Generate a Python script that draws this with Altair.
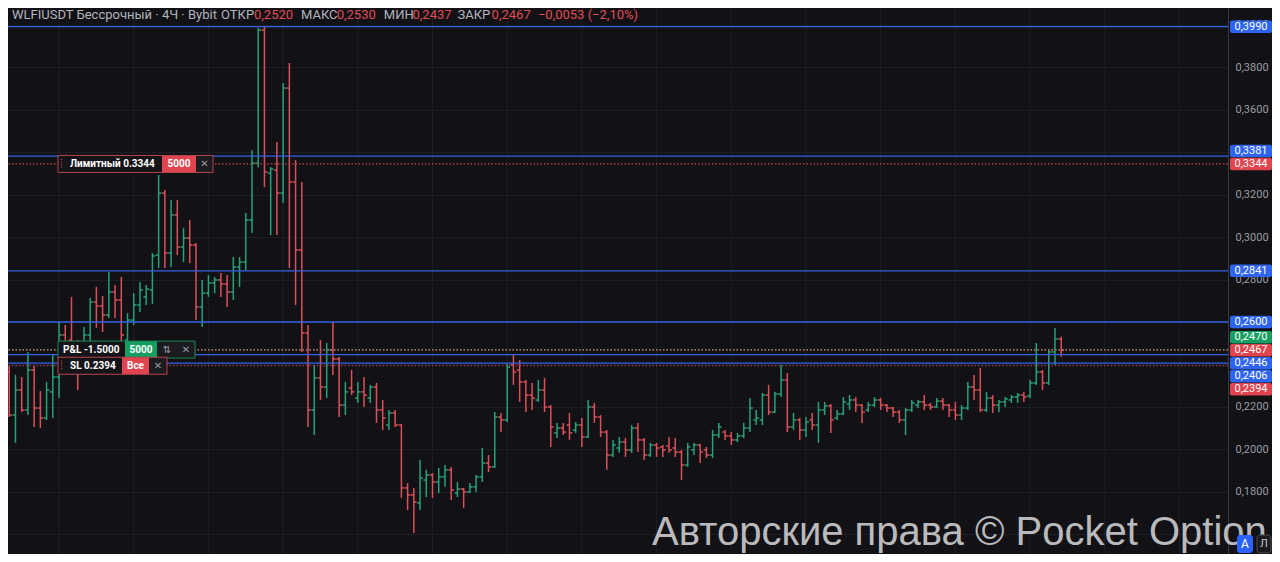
import altair as alt
import numpy as np
import pandas as pd

# ---------------- data ----------------
opens = [
    0.2365, 0.2162, 0.2280, 0.2186, 0.2374, 0.2195, 0.2148, 0.2271, 0.2341, 0.2539,
    0.2515, 0.2468, 0.2365, 0.2539, 0.2694, 0.2675, 0.2633, 0.2741, 0.2704, 0.2515,
    0.2609, 0.2680, 0.2718, 0.2751, 0.2915, 0.3207, 0.2925, 0.3104, 0.2953, 0.2995,
    0.2962, 0.2671, 0.2736, 0.2784, 0.2798, 0.2779, 0.2741, 0.2859, 0.2882, 0.3080,
    0.3348, 0.3974, 0.3301, 0.3315, 0.3207, 0.3701, 0.3259, 0.2939, 0.2548, 0.2186,
    0.2337, 0.2294, 0.2468, 0.2426, 0.2209, 0.2289, 0.2242, 0.2271, 0.2242, 0.2294,
    0.2186, 0.2115, 0.2172, 0.2115, 0.1819, 0.1786, 0.1748, 0.1856, 0.1880, 0.1847,
    0.1871, 0.1904, 0.1795, 0.1814, 0.1800, 0.1824, 0.1871, 0.1936, 0.1918, 0.2153,
    0.2139, 0.2398, 0.2374, 0.2318, 0.2256, 0.2233, 0.2280, 0.2200, 0.2078, 0.2101,
    0.2115, 0.2092, 0.2115, 0.2059, 0.2200, 0.2153, 0.2082, 0.1974, 0.2007, 0.2035,
    0.1998, 0.2101, 0.2045, 0.1974, 0.2021, 0.2012, 0.2016, 0.2007, 0.1988, 0.1927,
    0.1998, 0.2021, 0.1998, 0.1974, 0.2068, 0.2082, 0.2064, 0.2045, 0.2064, 0.2101,
    0.2139, 0.2139, 0.2256, 0.2176, 0.2261, 0.2327, 0.2106, 0.2139, 0.2092, 0.2139,
    0.2115, 0.2186, 0.2205, 0.2148, 0.2167, 0.2214, 0.2233, 0.2209, 0.2186, 0.2209,
    0.2233, 0.2209, 0.2195, 0.2176, 0.2139, 0.2186, 0.2209, 0.2224, 0.2209, 0.2200,
    0.2228, 0.2209, 0.2186, 0.2162, 0.2195, 0.2294, 0.2280, 0.2186, 0.2242, 0.2209,
    0.2224, 0.2233, 0.2247, 0.2256, 0.2252, 0.2313, 0.2365, 0.2313, 0.2459, 0.2520,
]
highs = [
    0.2393, 0.2351, 0.2341, 0.2459, 0.2393, 0.2275, 0.2318, 0.2445, 0.2600, 0.2586,
    0.2718, 0.2515, 0.2576, 0.2713, 0.2765, 0.2722, 0.2835, 0.2774, 0.2812, 0.2642,
    0.2736, 0.2788, 0.2774, 0.2925, 0.3292, 0.3221, 0.3174, 0.3174, 0.3042, 0.3080,
    0.2972, 0.2798, 0.2821, 0.2812, 0.2831, 0.2821, 0.2906, 0.2906, 0.3113, 0.3409,
    0.3985, 0.3990, 0.3329, 0.3447, 0.3725, 0.3819, 0.3362, 0.3259, 0.2586, 0.2398,
    0.2515, 0.2501, 0.2600, 0.2435, 0.2318, 0.2374, 0.2318, 0.2341, 0.2304, 0.2313,
    0.2233, 0.2186, 0.2186, 0.2120, 0.1842, 0.1819, 0.1951, 0.1904, 0.1889, 0.1913,
    0.1927, 0.1918, 0.1847, 0.1819, 0.1842, 0.1880, 0.2007, 0.1974, 0.2176, 0.2172,
    0.2407, 0.2445, 0.2421, 0.2327, 0.2313, 0.2327, 0.2337, 0.2209, 0.2125, 0.2125,
    0.2172, 0.2129, 0.2148, 0.2233, 0.2219, 0.2162, 0.2092, 0.2045, 0.2059, 0.2054,
    0.2115, 0.2125, 0.2054, 0.2031, 0.2031, 0.2021, 0.2059, 0.2054, 0.1998, 0.2031,
    0.2031, 0.2026, 0.2012, 0.2092, 0.2125, 0.2092, 0.2082, 0.2078, 0.2125, 0.2242,
    0.2186, 0.2266, 0.2304, 0.2271, 0.2398, 0.2360, 0.2172, 0.2148, 0.2153, 0.2172,
    0.2224, 0.2224, 0.2214, 0.2186, 0.2247, 0.2256, 0.2247, 0.2214, 0.2224, 0.2247,
    0.2242, 0.2214, 0.2200, 0.2186, 0.2195, 0.2233, 0.2233, 0.2256, 0.2219, 0.2242,
    0.2242, 0.2214, 0.2224, 0.2209, 0.2318, 0.2351, 0.2384, 0.2271, 0.2256, 0.2233,
    0.2247, 0.2256, 0.2266, 0.2271, 0.2327, 0.2501, 0.2374, 0.2468, 0.2572, 0.2530,
]
lows = [
    0.2153, 0.2031, 0.2176, 0.2162, 0.2106, 0.2101, 0.2139, 0.2148, 0.2242, 0.2468,
    0.2445, 0.2280, 0.2351, 0.2492, 0.2572, 0.2553, 0.2619, 0.2619, 0.2501, 0.2468,
    0.2586, 0.2647, 0.2680, 0.2685, 0.2854, 0.2854, 0.2859, 0.2915, 0.2882, 0.2878,
    0.2609, 0.2576, 0.2718, 0.2736, 0.2718, 0.2671, 0.2704, 0.2765, 0.2845, 0.3019,
    0.3329, 0.3235, 0.3009, 0.3009, 0.3160, 0.2854, 0.2680, 0.2459, 0.2106, 0.2068,
    0.2233, 0.2242, 0.2351, 0.2153, 0.2162, 0.2256, 0.2219, 0.2200, 0.2219, 0.2125,
    0.2092, 0.2092, 0.2106, 0.1772, 0.1715, 0.1607, 0.1715, 0.1776, 0.1772, 0.1795,
    0.1824, 0.1762, 0.1776, 0.1725, 0.1795, 0.1800, 0.1847, 0.1894, 0.1913, 0.2082,
    0.2129, 0.2304, 0.2224, 0.2176, 0.2186, 0.2224, 0.2176, 0.2012, 0.2054, 0.2068,
    0.2045, 0.2078, 0.2012, 0.2054, 0.2125, 0.2059, 0.1904, 0.1965, 0.1984, 0.1965,
    0.1984, 0.1988, 0.1951, 0.1965, 0.1965, 0.1965, 0.1984, 0.1965, 0.1856, 0.1918,
    0.1974, 0.1936, 0.1960, 0.1960, 0.2054, 0.2045, 0.2021, 0.2035, 0.2054, 0.2082,
    0.2115, 0.2115, 0.2162, 0.2172, 0.2247, 0.2082, 0.2092, 0.2045, 0.2059, 0.2092,
    0.2031, 0.2162, 0.2078, 0.2139, 0.2162, 0.2186, 0.2176, 0.2125, 0.2176, 0.2200,
    0.2186, 0.2176, 0.2153, 0.2125, 0.2068, 0.2176, 0.2195, 0.2186, 0.2186, 0.2195,
    0.2186, 0.2153, 0.2139, 0.2139, 0.2186, 0.2233, 0.2176, 0.2176, 0.2172, 0.2176,
    0.2200, 0.2219, 0.2219, 0.2224, 0.2242, 0.2304, 0.2280, 0.2304, 0.2398, 0.2437,
]
closes = [
    0.2162, 0.2280, 0.2186, 0.2374, 0.2195, 0.2148, 0.2280, 0.2341, 0.2539, 0.2492,
    0.2468, 0.2365, 0.2539, 0.2694, 0.2675, 0.2633, 0.2741, 0.2704, 0.2539, 0.2609,
    0.2680, 0.2751, 0.2755, 0.2911, 0.3207, 0.2925, 0.3104, 0.2953, 0.2995, 0.2962,
    0.2671, 0.2736, 0.2784, 0.2798, 0.2779, 0.2741, 0.2859, 0.2882, 0.3080, 0.3348,
    0.3974, 0.3306, 0.3320, 0.3207, 0.3701, 0.3259, 0.2939, 0.2548, 0.2186, 0.2337,
    0.2294, 0.2468, 0.2426, 0.2209, 0.2271, 0.2271, 0.2271, 0.2256, 0.2294, 0.2186,
    0.2148, 0.2172, 0.2115, 0.1819, 0.1786, 0.1753, 0.1866, 0.1880, 0.1847, 0.1871,
    0.1904, 0.1809, 0.1814, 0.1800, 0.1824, 0.1871, 0.1936, 0.1918, 0.2153, 0.2139,
    0.2388, 0.2365, 0.2318, 0.2256, 0.2242, 0.2280, 0.2200, 0.2106, 0.2101, 0.2082,
    0.2078, 0.2115, 0.2059, 0.2200, 0.2153, 0.2082, 0.1974, 0.2021, 0.2035, 0.1998,
    0.2101, 0.2045, 0.1974, 0.2021, 0.2007, 0.1998, 0.1998, 0.1988, 0.1927, 0.2012,
    0.2021, 0.1988, 0.1974, 0.2068, 0.2106, 0.2064, 0.2045, 0.2064, 0.2101, 0.2195,
    0.2148, 0.2256, 0.2176, 0.2261, 0.2327, 0.2106, 0.2139, 0.2092, 0.2129, 0.2115,
    0.2186, 0.2205, 0.2139, 0.2167, 0.2224, 0.2233, 0.2209, 0.2176, 0.2209, 0.2233,
    0.2209, 0.2195, 0.2176, 0.2139, 0.2186, 0.2219, 0.2224, 0.2209, 0.2200, 0.2228,
    0.2209, 0.2186, 0.2162, 0.2195, 0.2294, 0.2280, 0.2186, 0.2242, 0.2209, 0.2224,
    0.2238, 0.2247, 0.2256, 0.2247, 0.2313, 0.2365, 0.2313, 0.2459, 0.2520, 0.2467,
]

symbol_label = "WLFIUSDT Бессрочный · 4Ч · Bybit"
field_names = ["ОТКР", "МАКС", "МИН", "ЗАКР"]
line_levels = [0.3990, 0.3381, 0.2841, 0.2600, 0.2446, 0.2406]
limit_price = 0.3344
limit_label = "Лимитный"
limit_qty = "5000"
position_price = 0.2470
position_pnl = "-1.5000"
position_qty = "5000"
sl_price = 0.2394
sl_qty = "Все"
price_ticks = [0.16, 0.18, 0.20, 0.22, 0.24, 0.26, 0.28, 0.30, 0.32, 0.34, 0.36, 0.38, 0.40]
day_starts = [8, 20, 32, 44, 56, 68, 80, 92, 104, 116, 128, 140, 152, 164, 176, 188]
watermark = "Авторские права © Pocket Option"

# ---------------- layout / style ----------------
W, H, RIGHT = 1220, 546, 44
Y_DOM = [0.1508, 0.4078]
X_DOM = [-0.2, 195.8]
PX = H / (Y_DOM[1] - Y_DOM[0])  # pixels per price unit

BG = "#121216"
GRID = "#1d1e24"
UP = "#26a276"
DN = "#dd4f58"
BLUE = "#3561e8"
TAG_BLUE = "#2e64f2"
TAG_RED = "#e0454f"
TAG_GREEN = "#149e62"
HEAD = "#b2b5be"
VAL = "#e04b55"
AX_TXT = "#9a9ca2"
FONT = "Roboto"


def ru(v):
    return f"{v:.4f}".replace(".", ",")


def ypx(p):
    return (Y_DOM[1] - p) * PX


def ypr(px):
    return Y_DOM[1] - px / PX


xs = alt.Scale(domain=X_DOM, nice=False, zero=False)
ys = alt.Scale(domain=Y_DOM, nice=False, zero=False)
yaxis = alt.Axis(
    orient="right", values=price_ticks, title=None, grid=True, gridColor=GRID,
    gridWidth=1, ticks=False, domain=True, domainColor="#3a3c44", domainWidth=1,
    labelColor=AX_TXT, labelFont=FONT, labelFontSize=11, labelPadding=7,
    labelAlign="left", labelBaseline="middle", labelOverlap=False,
    labelBound=False, labelFlush=False,
    labelExpr="datum.value < 0.17 ? '' : replace(format(datum.value, '.4f'), '.', ',')",
)

layers = []

# vertical (day) grid
layers.append(
    alt.Chart(pd.DataFrame({"d": day_starts}))
    .mark_rule(color=GRID, strokeWidth=1)
    .encode(x=alt.X("d:Q", scale=xs, axis=None))
)

# OHLC bars
n = len(opens)
df = pd.DataFrame({"i": np.arange(n), "open": opens, "high": highs, "low": lows, "close": closes})
df["dir"] = np.where(df["close"] >= df["open"], "up", "down")
col = alt.Color("dir:N", scale=alt.Scale(domain=["up", "down"], range=[UP, DN]), legend=None)
base = alt.Chart(df).transform_calculate(ol="datum.i - 0.45", cr="datum.i + 0.45")
sw = 1.5
layers.append(base.mark_rule(strokeWidth=sw).encode(
    x=alt.X("i:Q", scale=xs, axis=None), y=alt.Y("low:Q", scale=ys, axis=yaxis), y2="high:Q", color=col))
layers.append(base.mark_rule(strokeWidth=sw).encode(
    x=alt.X("ol:Q", scale=xs, axis=None), x2="i:Q", y=alt.Y("open:Q", scale=ys, axis=yaxis), color=col))
layers.append(base.mark_rule(strokeWidth=sw).encode(
    x=alt.X("i:Q", scale=xs, axis=None), x2="cr:Q", y=alt.Y("close:Q", scale=ys, axis=yaxis), color=col))

# horizontal level lines
layers.append(
    alt.Chart(pd.DataFrame({"p": line_levels}))
    .mark_rule(color=BLUE, strokeWidth=1.3)
    .encode(y=alt.Y("p:Q", scale=ys, axis=yaxis))
)
dots = pd.DataFrame({
    "p": [limit_price, position_price, closes[-1], sl_price],
    "c": ["#c4464f", "#6f9a82", "#c4464f", "#c4464f"],
})
layers.append(
    alt.Chart(dots).mark_rule(strokeWidth=1.2, strokeDash=[1.5, 2])
    .encode(y=alt.Y("p:Q", scale=ys, axis=yaxis), color=alt.Color("c:N", scale=None))
)

one = pd.DataFrame({"k": [0]})


def p_rect(price, x1, x2, half, **kw):
    d = pd.DataFrame({"a": [price + half / PX], "b": [price - half / PX]})
    return alt.Chart(d).mark_rect(**kw).encode(
        x=alt.value(x1), x2=alt.value(x2), y=alt.Y("a:Q", scale=ys, axis=yaxis), y2="b:Q")


def p_vrule(price, x, half, **kw):
    d = pd.DataFrame({"a": [price + half / PX], "b": [price - half / PX]})
    return alt.Chart(d).mark_rule(**kw).encode(
        x=alt.value(x), y=alt.Y("a:Q", scale=ys, axis=yaxis), y2="b:Q")


def p_text(price, x, text, **kw):
    d = pd.DataFrame({"p": [price]})
    return alt.Chart(d).mark_text(text=text, baseline="middle", **kw).encode(
        x=alt.value(x), y=alt.Y("p:Q", scale=ys, axis=yaxis))


def px_rect(x1, x2, y1, y2, **kw):
    return alt.Chart(one).mark_rect(**kw).encode(
        x=alt.value(x1), x2=alt.value(x2), y=alt.value(y1), y2=alt.value(y2))


def px_text(x, y, text, **kw):
    return alt.Chart(one).mark_text(text=text, **kw).encode(x=alt.value(x), y=alt.value(y))


BOX_BG = "#141418"
BOX_BG2 = "#1b1b20"
HALF = 8.5
bold = dict(font=FONT, fontWeight="bold", fontSize=10, color="#ffffff")
xglyph = dict(font="DejaVu Sans", fontSize=10, color="#9a9ca3", align="center")

# limit order box
lp = limit_price
layers += [
    p_rect(lp, 50, 154, HALF, fill=BOX_BG),
    p_rect(lp, 154, 188, HALF, fill=TAG_RED),
    p_rect(lp, 188, 205, HALF, fill=BOX_BG2),
    p_rect(lp, 50, 205, HALF, fillOpacity=0, stroke="#b8424a", strokeWidth=1),
    p_vrule(lp, 53.5, 5, color="#c4464f", strokeWidth=1.2, strokeDash=[1, 1.5]),
    p_text(lp, 62, f"{limit_label} {lp:.4f}", align="left", **bold),
    p_text(lp, 171, limit_qty, align="center", **bold),
    p_text(lp, 196.5, "✕", **xglyph),
]
# position box
pp = position_price
layers += [
    p_rect(pp, 50, 117, HALF, fill=BOX_BG),
    p_rect(pp, 117, 149, HALF, fill=TAG_GREEN),
    p_rect(pp, 149, 169, HALF, fill=BOX_BG2),
    p_rect(pp, 169, 187, HALF, fill=BOX_BG2),
    p_rect(pp, 50, 187, HALF, fillOpacity=0, stroke="#1b8a58", strokeWidth=1),
    p_text(pp, 55, f"P&L {position_pnl}", align="left", **bold),
    p_text(pp, 133, position_qty, align="center", **bold),
    p_text(pp, 159, "⇅", **xglyph),
    p_text(pp, 178, "✕", **xglyph),
]
# stop-loss box
sp = sl_price
layers += [
    p_rect(sp, 50, 114, HALF, fill=BOX_BG),
    p_rect(sp, 114, 141, HALF, fill=TAG_RED),
    p_rect(sp, 141, 159, HALF, fill=BOX_BG2),
    p_rect(sp, 50, 159, HALF, fillOpacity=0, stroke="#b8424a", strokeWidth=1),
    p_vrule(sp, 53.5, 5, color="#c4464f", strokeWidth=1.2, strokeDash=[1, 1.5]),
    p_text(sp, 62, f"SL {sp:.4f}", align="left", **bold),
    p_text(sp, 127.5, sl_qty, align="center", **bold),
    p_text(sp, 150, "✕", **xglyph),
]

# header
chg = closes[-1] - closes[-2]
pct = chg / closes[-2] * 100
chg_txt = (f"{chg:+.4f} ({pct:+.2f}%)").replace("-", "−").replace("+", "").replace(".", ",")
vals = [ru(opens[-1]), ru(highs[-1]), ru(lows[-1]), ru(closes[-1])]
HY = 11
head_font = dict(font=FONT, fontSize=13, align="left", baseline="alphabetic")
hx_names = [213, 293, 375.8, 449.5]
hx_vals = [246, 328.7, 404.5, 483.6]
layers.append(px_text(4, HY, symbol_label, color=HEAD, **head_font))
for nm, v, xn, xv in zip(field_names, vals, hx_names, hx_vals):
    layers.append(px_text(xn, HY, nm, color=HEAD, **head_font))
    layers.append(px_text(xv, HY, v, color=VAL, **head_font))
layers.append(px_text(529.9, HY, chg_txt, color=VAL, **head_font))

# watermark
layers.append(px_text(644, 537, watermark, font="Liberation Sans", fontSize=40,
                      color="#d2d2d4", opacity=0.88, align="left", baseline="alphabetic"))


# price tags on the axis: overlapping tags are stacked around the one with
# the highest priority (last price > orders > levels), which keeps its place
def stack(pos, prio, gap):
    idx = sorted(range(len(pos)), key=lambda k: pos[k])
    groups = [[k] for k in idx]

    def start(g):
        r = max(range(len(g)), key=lambda j: (prio[g[j]], -j))
        return pos[g[r]] - r * gap

    merged = True
    while merged:
        merged = False
        for j in range(len(groups) - 1):
            a, b = groups[j], groups[j + 1]
            if start(a) + gap * len(a) > start(b) + 0.01:
                groups[j] = a + b
                del groups[j + 1]
                merged = True
                break
    out = [0.0] * len(pos)
    for g in groups:
        s = start(g)
        for r, k in enumerate(g):
            out[k] = s + r * gap
    return out


tag_prices = line_levels + [limit_price, position_price, closes[-1], sl_price]
tag_prio = [1] * len(line_levels) + [2, 2, 3, 2]
tag_colors = [TAG_BLUE] * len(line_levels) + [TAG_RED, TAG_GREEN, TAG_RED, TAG_RED]
disp_px = stack([ypx(p) for p in tag_prices], tag_prio, 13.0)
tags = pd.DataFrame({
    "d": [ypr(v) for v in disp_px],
    "a": [ypr(v - 6.3) for v in disp_px],
    "b": [ypr(v + 6.3) for v in disp_px],
    "t": [ru(p) for p in tag_prices],
    "c": tag_colors,
})
layers.append(
    alt.Chart(tags).mark_rect(cornerRadius=2).encode(
        x=alt.value(W + 2), x2=alt.value(W + RIGHT),
        y=alt.Y("a:Q", scale=ys, axis=yaxis), y2="b:Q",
        fill=alt.Fill("c:N", scale=None))
)
layers.append(
    alt.Chart(tags).mark_text(font=FONT, fontSize=11, color="#ffffff", align="center", baseline="middle")
    .encode(x=alt.value(W + 2 + (RIGHT - 2) / 2), y=alt.Y("d:Q", scale=ys, axis=yaxis), text="t:N")
)

# small buttons bottom-right
layers += [
    px_rect(W + 9, W + 25, 527, 545, fill="#2962ff", cornerRadius=3),
    px_text(W + 17, 536, "A", font=FONT, fontSize=12, color="#ffffff", align="center", baseline="middle"),
    px_rect(W + 29, W + 43, 527, 545, fill="#1a1a1f", stroke="#4a4c55", strokeWidth=1, cornerRadius=3),
    px_text(W + 36, 536, "Л", font=FONT, fontSize=11, color="#c8c9cd", align="center", baseline="middle"),
]

chart = (
    alt.layer(*layers)
    .properties(
        width=W, height=H,
        padding={"left": 0, "top": 0, "right": RIGHT, "bottom": 0},
        autosize=alt.AutoSizeParams(type="none"),
        background=BG,
    )
    .configure_view(stroke=None)
)

chart.save("out.html", embed_options={"renderer": "svg", "actions": False})
